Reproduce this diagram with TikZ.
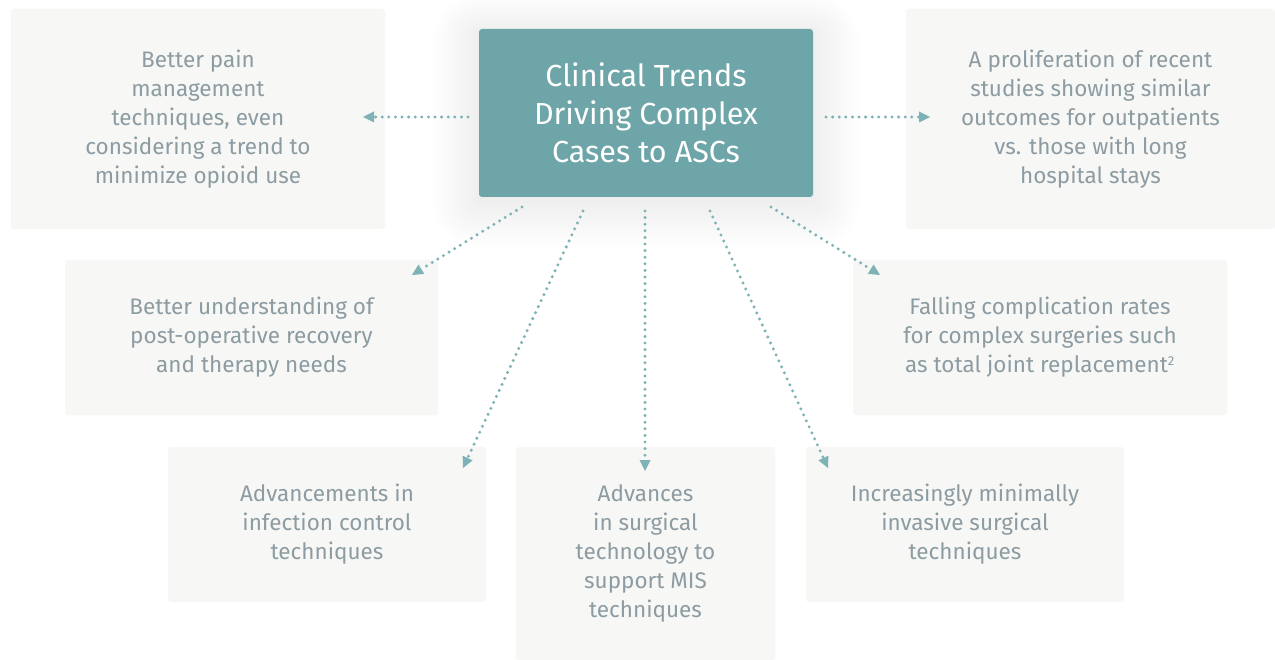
\documentclass[tikz,border=0pt]{standalone}
\usepackage{fontspec}
\setmainfont{Fira Sans}
\usetikzlibrary{arrows.meta}
\definecolor{teal}{HTML}{6EA5A9}
\definecolor{boxbg}{HTML}{F7F7F5}
\definecolor{txt}{HTML}{8C9CA2}
\definecolor{arr}{HTML}{7DB2B6}
\tikzset{
  card/.style={fill=boxbg, rounded corners=3pt, inner sep=0pt, text=txt, align=center,
    font=\fontsize{22.5}{29}\selectfont},
  hub/.style={fill=teal, rounded corners=3pt, inner sep=0pt, text=white, align=center,
    font=\fontsize{30.5}{38}\selectfont},
  glow/.style={fill=black, fill opacity=0.0055, rounded corners=#1},
  link/.style={draw=arr, line width=3.3pt, dash pattern=on 0pt off 6.6pt, line cap=round,
    -{Triangle[length=11pt,width=11pt,fill=arr,line width=0pt]}},
}
\begin{document}
\begin{tikzpicture}[x=1pt,y=-1pt]
\useasboundingbox (0,0) rectangle (1275,660);
\fill[white] (0,0) rectangle (1275,660);
% soft glow behind the hub
\foreach \r in {2,5,...,47} {
  \fill[glow=\r pt] (479-\r,29-\r*0.8+4) rectangle (813+\r,197+\r+4);
}
% cards
\node[card, minimum width=374pt, minimum height=220pt] (tl) at (198,119) {Better pain\\management\\techniques, even\\considering a trend to\\minimize opioid use};
\node[card, minimum width=369pt, minimum height=220pt] (tr) at (1090.5,119) {A proliferation of recent\\studies showing similar\\outcomes for outpatients\\vs. those with long\\hospital stays};
\node[card, minimum width=373pt, minimum height=155pt] (ml) at (251.5,337.5) {Better understanding of\\post-operative recovery\\and therapy needs};
\node[card, minimum width=374pt, minimum height=155pt] (mr) at (1040,337.5) {Falling complication rates\\for complex surgeries such\\as total joint replacement\textsuperscript{\fontsize{13}{13}\selectfont 2}};
\node[card, minimum width=318pt, minimum height=155pt] (bl) at (327,524.5) {Advancements in\\infection control\\techniques};
\node[card, minimum width=259pt, minimum height=213pt] (bc) at (645.5,553.5) {Advances\\in surgical\\technology to\\support MIS\\techniques};
\node[card, minimum width=318pt, minimum height=155pt] (br) at (965,524.5) {Increasingly minimally\\invasive surgical\\techniques};
% hub
\node[hub, minimum width=334pt, minimum height=168pt] (hub) at (646,113) {Clinical Trends\\Driving Complex\\Cases to ASCs};
% connector ends
\coordinate (s1) at (468,117); \coordinate (e1) at (363,117);
\coordinate (s2) at (826,117); \coordinate (e2) at (930,117);
\coordinate (s3) at (522,207); \coordinate (e3) at (412,275);
\coordinate (s4) at (583,211); \coordinate (e4) at (463,468);
\coordinate (s5) at (645,211); \coordinate (e5) at (645,471);
\coordinate (s6) at (710,211); \coordinate (e6) at (828,468);
\coordinate (s7) at (771,207); \coordinate (e7) at (880,275);
\draw[link] (s1) -- (e1);
\draw[link] (s2) -- (e2);
\draw[link] (s3) -- (e3);
\draw[link] (s4) -- (e4);
\draw[link] (s5) -- (e5);
\draw[link] (s6) -- (e6);
\draw[link] (s7) -- (e7);
\end{tikzpicture}
\end{document}
